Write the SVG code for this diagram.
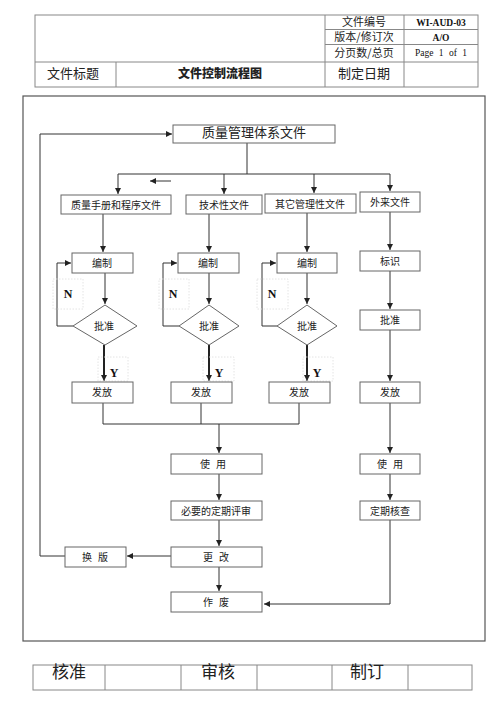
<svg xmlns="http://www.w3.org/2000/svg" width="500" height="707" viewBox="0 0 500 707">
<style>
.t{font-family:"Noto Sans CJK SC","Liberation Sans",sans-serif;fill:#222;text-anchor:middle}
.s{font-family:"Liberation Serif","Noto Sans CJK SC",serif;fill:#111;text-anchor:middle}
.box{fill:#fff;stroke:#666;stroke-width:1}
.tbl{fill:none;stroke:#888;stroke-width:1}
.c{fill:none;stroke:#333;stroke-width:1}
.cb{fill:none;stroke:#222;stroke-width:2}
.faint{fill:none;stroke:#ddd;stroke-width:0.8;stroke-dasharray:1.5 1.5}
</style>
<defs>
<marker id="ah" markerUnits="userSpaceOnUse" markerWidth="7" markerHeight="7" refX="6" refY="3" orient="auto">
<path d="M0,0 L6,3 L0,6 z" fill="#222"/>
</marker>
</defs>
<rect width="500" height="707" fill="#fff"/>

<g id="header">
<rect class="tbl" x="35" y="15" width="443" height="72"/>
<line class="tbl" x1="35" y1="62" x2="478" y2="62"/>
<line class="tbl" x1="325" y1="15" x2="325" y2="87"/>
<line class="tbl" x1="404" y1="15" x2="404" y2="87"/>
<line class="tbl" x1="116" y1="62" x2="116" y2="87"/>
<line class="tbl" x1="325" y1="29.5" x2="478" y2="29.5"/>
<line class="tbl" x1="325" y1="44.5" x2="478" y2="44.5"/>
<text class="t" x="364" y="26" font-size="11">文件编号</text>
<text class="t" x="364" y="41" font-size="11">版本/修订次</text>
<text class="t" x="364" y="57" font-size="11">分页数/总页</text>
<text class="t" x="364" y="78" font-size="13">制定日期</text>
<text class="s" x="441" y="26" font-size="9.5" font-weight="bold">WI-AUD-03</text>
<text class="s" x="441" y="41" font-size="9.5" font-weight="bold">A/O</text>
<text class="s" x="441" y="56" font-size="9.5" word-spacing="3">Page 1 of 1</text>
<text class="t" x="73" y="78" font-size="13">文件标题</text>
<text class="t" x="220" y="78" font-size="12" font-weight="900">文件控制流程图</text>
</g>

<rect id="frame" x="23" y="96" width="462" height="545" fill="none" stroke="#555" stroke-width="1.2"/>

<g id="connectors">
<path class="c" d="M65,556 H40 V134 H172" marker-end="url(#ah)"/>
<path class="c" d="M247,143 V174"/>
<path class="c" d="M118,174 H390"/>
<path class="c" d="M118,174 V194" marker-end="url(#ah)"/>
<path class="c" d="M224,174 V194" marker-end="url(#ah)"/>
<path class="c" d="M314,174 V193" marker-end="url(#ah)"/>
<path class="c" d="M390,174 V191" marker-end="url(#ah)"/>
<path class="c" d="M171,181 H150" marker-end="url(#ah)"/>

<path class="c" d="M103,214 V252" marker-end="url(#ah)"/>
<path class="c" d="M105,273 V304" marker-end="url(#ah)"/>
<path class="c" d="M73,326 H57 V263 H71" marker-end="url(#ah)"/>
<path class="cb" d="M104,345 V376"/>
<path class="c" d="M104,375 V381" marker-end="url(#ah)"/>
<path class="c" d="M103,403 V424"/>

<path class="c" d="M209,214 V252" marker-end="url(#ah)"/>
<path class="c" d="M209,273 V304" marker-end="url(#ah)"/>
<path class="c" d="M179,326 H163 V263 H177" marker-end="url(#ah)"/>
<path class="cb" d="M209,345 V376"/>
<path class="c" d="M209,375 V381" marker-end="url(#ah)"/>
<path class="c" d="M201,403 V424"/>

<path class="c" d="M307,213 V252" marker-end="url(#ah)"/>
<path class="c" d="M307,273 V304" marker-end="url(#ah)"/>
<path class="c" d="M277,326 H262 V263 H276" marker-end="url(#ah)"/>
<path class="cb" d="M307,345 V376"/>
<path class="c" d="M307,375 V381" marker-end="url(#ah)"/>
<path class="c" d="M299,403 V424"/>

<path class="c" d="M103,424 H299"/>
<path class="c" d="M219,424 V453" marker-end="url(#ah)"/>
<path class="c" d="M219,474 V500" marker-end="url(#ah)"/>
<path class="c" d="M219,520 V546" marker-end="url(#ah)"/>
<path class="c" d="M171,556 H127" marker-end="url(#ah)"/>
<path class="c" d="M219,567 V591" marker-end="url(#ah)"/>

<path class="c" d="M390,212 V250" marker-end="url(#ah)"/>
<path class="c" d="M390,271 V309" marker-end="url(#ah)"/>
<path class="c" d="M390,330 V381" marker-end="url(#ah)"/>
<path class="c" d="M390,403 V453" marker-end="url(#ah)"/>
<path class="c" d="M390,474 V500" marker-end="url(#ah)"/>
<path class="c" d="M390,520 V604 H264" marker-end="url(#ah)"/>
</g>

<g id="n-qms"><rect class="box" x="173" y="125" width="162" height="18"/><text class="t" x="254" y="137" font-size="13">质量管理体系文件</text></g>
<g id="n-manual"><rect class="box" x="61" y="195" width="110" height="19"/><text class="t" x="116" y="208.5" font-size="10">质量手册和程序文件</text></g>
<g id="n-tech"><rect class="box" x="186" y="195" width="76" height="19"/><text class="t" x="224" y="208.5" font-size="10">技术性文件</text></g>
<g id="n-other"><rect class="box" x="265" y="194" width="91" height="19"/><text class="t" x="310" y="207.5" font-size="10">其它管理性文件</text></g>
<g id="n-ext"><rect class="box" x="360" y="192" width="60" height="20"/><text class="t" x="390" y="205.5" font-size="10">外来文件</text></g>

<g id="n-edit1"><rect class="box" x="72" y="253" width="61" height="20"/><text class="t" x="102" y="266.5" font-size="10">编制</text></g>
<g id="n-edit2"><rect class="box" x="178" y="253" width="61" height="20"/><text class="t" x="208" y="266.5" font-size="10">编制</text></g>
<g id="n-edit3"><rect class="box" x="277" y="253" width="60" height="20"/><text class="t" x="307" y="266.5" font-size="10">编制</text></g>
<g id="n-mark"><rect class="box" x="360" y="251" width="60" height="20"/><text class="t" x="390" y="264.5" font-size="10">标识</text></g>

<g id="n-app1"><path class="box" d="M105,305 L137,326 L105,345 L73,326 Z"/><text class="t" x="104" y="329.5" font-size="10">批准</text></g>
<g id="n-app2"><path class="box" d="M209,305 L239,326 L209,345 L179,326 Z"/><text class="t" x="209" y="329.5" font-size="10">批准</text></g>
<g id="n-app3"><path class="box" d="M307,305 L337,326 L307,345 L277,326 Z"/><text class="t" x="307" y="329.5" font-size="10">批准</text></g>
<g id="n-app4"><rect class="box" x="360" y="310" width="60" height="20"/><text class="t" x="390" y="323.5" font-size="10">批准</text></g>

<g id="lbl-n1"><rect class="faint" x="53" y="279" width="30" height="30"/><text class="s" x="68" y="298" font-size="12" font-weight="bold">N</text></g>
<g id="lbl-n2"><rect class="faint" x="159" y="279" width="30" height="30"/><text class="s" x="173" y="298" font-size="12" font-weight="bold">N</text></g>
<g id="lbl-n3"><rect class="faint" x="257" y="279" width="31" height="30"/><text class="s" x="272" y="298" font-size="12" font-weight="bold">N</text></g>
<g id="lbl-y1"><rect class="faint" x="98" y="357" width="30" height="24"/><text class="s" x="114" y="377" font-size="12" font-weight="bold">Y</text></g>
<g id="lbl-y2"><rect class="faint" x="203" y="357" width="31" height="24"/><text class="s" x="219" y="377" font-size="12" font-weight="bold">Y</text></g>
<g id="lbl-y3"><rect class="faint" x="303" y="357" width="30" height="24"/><text class="s" x="317" y="377" font-size="12" font-weight="bold">Y</text></g>

<g id="n-rel1"><rect class="box" x="72" y="382" width="61" height="21"/><text class="t" x="102" y="396" font-size="10">发放</text></g>
<g id="n-rel2"><rect class="box" x="171" y="382" width="61" height="21"/><text class="t" x="201" y="396" font-size="10">发放</text></g>
<g id="n-rel3"><rect class="box" x="269" y="382" width="61" height="21"/><text class="t" x="299" y="396" font-size="10">发放</text></g>
<g id="n-rel4"><rect class="box" x="360" y="382" width="60" height="21"/><text class="t" x="390" y="396" font-size="10">发放</text></g>

<g id="n-use1"><rect class="box" x="171" y="454" width="91" height="20"/><text class="t" x="216" y="467.5" font-size="10" letter-spacing="6">使用</text></g>
<g id="n-use2"><rect class="box" x="360" y="454" width="60" height="20"/><text class="t" x="393" y="467.5" font-size="10" letter-spacing="6">使用</text></g>
<g id="n-review"><rect class="box" x="171" y="501" width="91" height="19"/><text class="t" x="216" y="514.5" font-size="10">必要的定期评审</text></g>
<g id="n-check"><rect class="box" x="360" y="501" width="60" height="19"/><text class="t" x="390" y="514.5" font-size="10">定期核查</text></g>
<g id="n-change"><rect class="box" x="171" y="547" width="91" height="20"/><text class="t" x="219" y="560.5" font-size="10" letter-spacing="6">更改</text></g>
<g id="n-reissue"><rect class="box" x="65" y="547" width="61" height="20"/><text class="t" x="98" y="560.5" font-size="10" letter-spacing="6">换版</text></g>
<g id="n-void"><rect class="box" x="171" y="592" width="91" height="20"/><text class="t" x="219" y="605.5" font-size="10" letter-spacing="6">作废</text></g>

<g id="footer">
<rect class="tbl" x="33" y="665" width="439" height="25"/>
<line class="tbl" x1="105" y1="665" x2="105" y2="690"/>
<line class="tbl" x1="181" y1="665" x2="181" y2="690"/>
<line class="tbl" x1="257" y1="665" x2="257" y2="690"/>
<line class="tbl" x1="332" y1="665" x2="332" y2="690"/>
<line class="tbl" x1="408" y1="665" x2="408" y2="690"/>
<text class="t" x="69" y="678" font-size="17">核准</text>
<text class="t" x="218" y="678" font-size="17">审核</text>
<text class="t" x="367" y="678" font-size="17">制订</text>
</g>
</svg>
